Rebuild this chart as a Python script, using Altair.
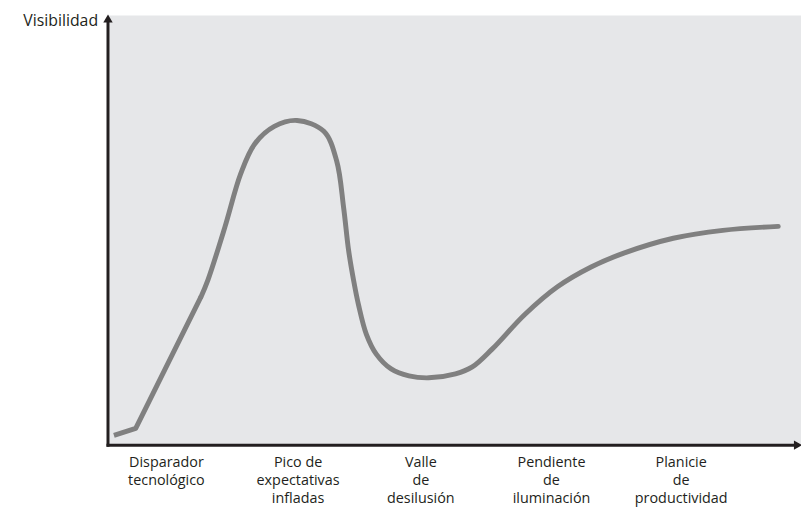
import altair as alt
import pandas as pd

# Hype-cycle curve (x, visibility)
# straight launch segment
launch_x = [6, 28, 94]
launch_y = [10, 17, 150]
# smooth remainder
curve_x = [94, 101, 118, 134, 148, 168, 191, 218, 231, 238, 243, 248, 253, 261, 271, 286, 304, 324, 351, 368, 388, 421, 454, 488, 521, 571, 621, 677]
curve_y = [150, 167, 220, 274, 304, 322, 328, 317, 287, 240, 197, 167, 142, 112, 92, 77, 70, 68, 72, 79, 97, 132, 160, 180, 194, 209, 217, 221]

phase_labels = ["Disparador\ntecnológico", "Pico de\nexpectativas\ninfladas", "Valle\nde\ndesilusión",
                "Pendiente\nde\niluminación", "Planicie\nde\nproductividad"]
phase_x = [59, 192, 316, 448, 579]

y_title = "Visibilidad"

W, H = 700, 434
XMAX = 700
YMAX = 434

launch = pd.DataFrame({"x": launch_x, "y": launch_y, "o": list(range(len(launch_x)))})
curve = pd.DataFrame({"x": curve_x, "y": curve_y, "o": list(range(len(curve_x)))})
phases = pd.DataFrame({"x": phase_x, "label": phase_labels})

xs = alt.Scale(domain=[0, XMAX], nice=False, zero=False)
ys = alt.Scale(domain=[0, YMAX], nice=False, zero=False)

dark = "#231f20"
grey = "#808080"
font = "Open Sans"

one = pd.DataFrame({"a": [0]})

bg = alt.Chart(one).mark_rect(color="#e6e7e9").encode(
    x=alt.value(0), x2=alt.value(W), y=alt.value(0), y2=alt.value(H))

line1 = alt.Chart(launch).mark_line(color=grey, strokeWidth=5, interpolate="linear",
                                    strokeJoin="round", clip=False).encode(
    x=alt.X("x:Q", scale=xs, axis=None),
    y=alt.Y("y:Q", scale=ys, axis=None),
    order="o:Q",
)
line2 = alt.Chart(curve).mark_line(color=grey, strokeWidth=5, interpolate="catmull-rom",
                                   strokeCap="round", clip=False).encode(
    x=alt.X("x:Q", scale=xs, axis=None),
    y=alt.Y("y:Q", scale=ys, axis=None),
    order="o:Q",
)

yaxis = alt.Chart(one).mark_rule(color=dark, strokeWidth=3).encode(
    x=alt.value(0), y=alt.value(6), y2=alt.value(H + 1.5))
xaxis = alt.Chart(one).mark_rule(color=dark, strokeWidth=3).encode(
    x=alt.value(-1.5), x2=alt.value(W - 2), y=alt.value(H))

arrow_up = alt.Chart(one).mark_point(shape="triangle-up", filled=True, color=dark, size=90, opacity=1).encode(
    x=alt.value(0), y=alt.value(3))
arrow_right = alt.Chart(one).mark_point(shape="triangle-right", filled=True, color=dark, size=90, opacity=1).encode(
    x=alt.value(W - 3), y=alt.value(H))

ytitle = alt.Chart(pd.DataFrame({"t": [y_title]})).mark_text(
    align="right", baseline="middle", fontSize=16, font=font, color=dark).encode(
    x=alt.value(-10), y=alt.value(6), text="t:N")

labels = alt.Chart(phases).mark_text(
    align="center", baseline="top", fontSize=14.5, font=font, color=dark, lineBreak="\n", lineHeight=18).encode(
    x=alt.X("x:Q", scale=xs, axis=None), y=alt.value(H + 11), text="label:N")

chart = alt.layer(bg, line1, line2, yaxis, xaxis, arrow_up, arrow_right, ytitle, labels).properties(
    width=W, height=H,
    background="white",
    autosize=alt.AutoSizeParams(type="none"),
    padding={"left": 101, "top": 5, "right": 0, "bottom": 72},
).configure_view(stroke=None)

chart.save("out.html", embed_options={"renderer": "svg", "actions": False})
